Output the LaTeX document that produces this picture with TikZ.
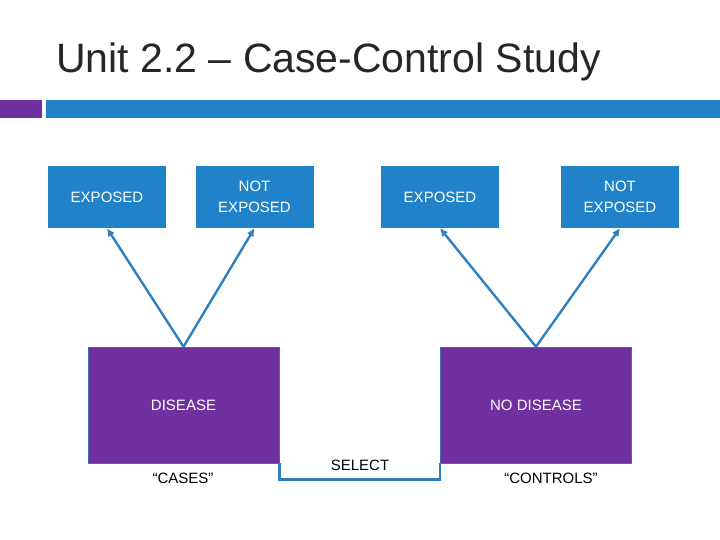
\documentclass[tikz,border=0pt]{standalone}
\usepackage{fontspec}
\setmainfont{Liberation Sans}
\usepackage{tikz}
\usetikzlibrary{arrows.meta}

\definecolor{slideblue}{HTML}{2083C9}
\definecolor{slidepurple}{HTML}{7030A0}
\definecolor{lineblue}{HTML}{2E80C0}
\definecolor{titlegray}{HTML}{262626}

\begin{document}
\begin{tikzpicture}[x=1pt,y=-1pt,
    expbox/.style={fill=slideblue,text=white,minimum width=118pt,minimum height=62pt,
      inner sep=0pt,align=center,font=\fontsize{15}{21}\selectfont},
    disbox/.style={fill=slidepurple,draw=lineblue!70!slidepurple,line width=0.6pt,text=white,
      minimum width=191pt,minimum height=116pt,inner sep=0pt,font=\fontsize{15}{18}\selectfont},
    grouplabel/.style={text=black,inner sep=0pt,font=\fontsize{15}{18}\selectfont},
    link/.style={-{Latex[length=8pt,width=8pt]},draw=lineblue,fill=lineblue,line width=2.4pt},
    selline/.style={draw=lineblue,line width=2.4pt}]
    \useasboundingbox[fill=white] (0,0) rectangle (720,540);

    % title and bar
    \node[anchor=base west,inner sep=0pt,text=titlegray,font=\fontsize{41}{45}\selectfont] (title) at (56,73) {Unit 2.2 -- Case-Control Study};
    \fill[slidepurple] (0,100) rectangle (42,118);
    \fill[slideblue]   (46,100) rectangle (720,118);

    \node[expbox]  (exp1)   at (107,197)   {EXPOSED};
    \node[expbox]  (notexp1) at (254.5,197) {NOT\\EXPOSED};
    \node[expbox]  (exp2)   at (440,197)   {EXPOSED};
    \node[expbox]  (notexp2) at (620,197)  {NOT\\EXPOSED};

    \node[disbox]  (disease)   at (183.5,405) {DISEASE};
    \node[disbox]  (nodisease) at (536,405)   {NO DISEASE};

    \node[grouplabel] (cases)    at (183,478) {“CASES”};
    \node[grouplabel] (controls) at (551,478) {“CONTROLS”};

    \draw[link] (disease.north)   -- (exp1.south);
    \draw[link] (disease.north)   -- (notexp1.south);
    \draw[link] (nodisease.north) -- (exp2.south);
    \draw[link] (nodisease.north) -- (notexp2.south);

    \draw[selline] (disease.south east) -- ++(0,16) -| (nodisease.south west);
    \node[grouplabel] (select) at (360,465) {SELECT};
\end{tikzpicture}
\end{document}
